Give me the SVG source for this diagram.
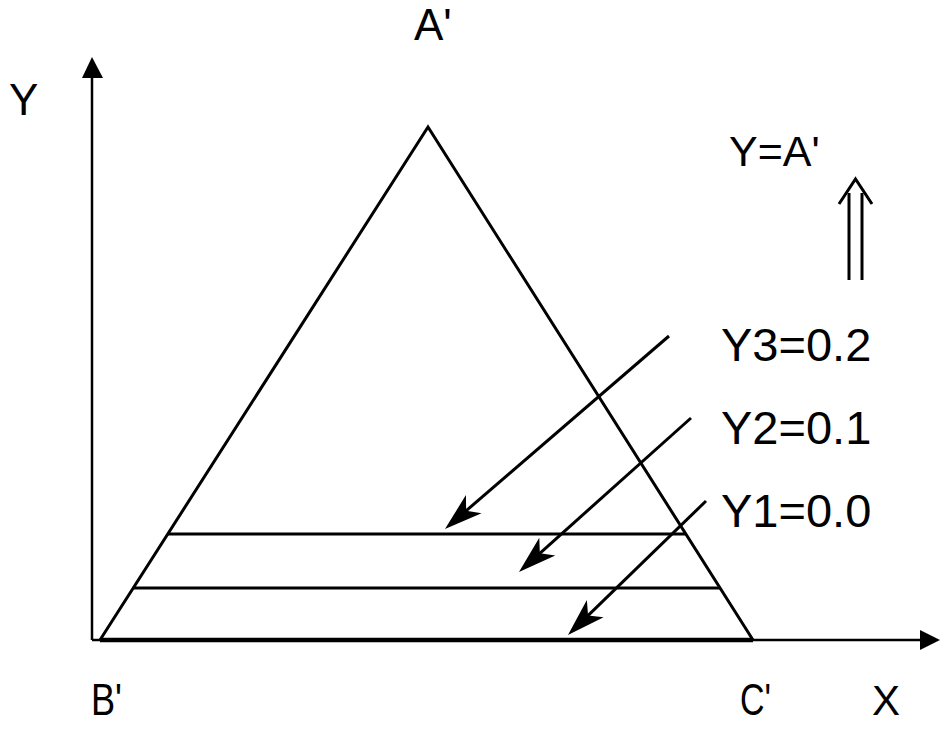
<svg xmlns="http://www.w3.org/2000/svg" width="942" height="735" viewBox="0 0 942 735">
<defs>
<style>
.ln{stroke:#000;stroke-width:3;fill:none;stroke-linecap:butt}
.ax{stroke:#000;stroke-width:2.5;fill:none}
.t{font-family:"Liberation Sans",Arial,sans-serif;fill:#000}
.hd{fill:#000;stroke:none}
</style>
<marker id="ah" markerUnits="userSpaceOnUse" viewBox="-15 -13 42 26" markerWidth="42" markerHeight="26" refX="0" refY="0" orient="auto">
<path class="hd" d="M25,0 L-13,-12 L-3,0 L-13,12 z"/>
</marker>
</defs>
<rect width="942" height="735" fill="#fff"/>
<g id="axes">
<line class="ax" x1="92" y1="640" x2="92" y2="76"/>
<polygon class="hd" points="92,57 82,78 103,78"/>
<line class="ax" x1="92" y1="640" x2="922" y2="640"/>
<polygon class="hd" points="940,640 920,630 920,650"/>
</g>
<g id="triangle">
<polyline class="ln" points="100,640 428,127 753,640"/>
<line x1="100" y1="640" x2="753" y2="640" stroke="#000" stroke-width="4.5"/>
</g>
<g id="level-y3"><line class="ln" x1="168" y1="534" x2="686" y2="534"/></g>
<g id="level-y2"><line class="ln" x1="133" y1="588" x2="720" y2="588"/></g>
<g id="connectors">
<line class="ln" x1="669" y1="336" x2="463.9" y2="512.7" marker-end="url(#ah)"/>
<line class="ln" x1="691" y1="418" x2="537.6" y2="555.3" marker-end="url(#ah)"/>
<line class="ln" x1="706" y1="501" x2="585.9" y2="617.6" marker-end="url(#ah)"/>
</g>
<g id="double-arrow">
<line class="ln" x1="849" y1="193" x2="849" y2="280"/>
<line class="ln" x1="862" y1="193" x2="862" y2="280"/>
<polyline class="ln" points="839,204 855.5,179 872,204"/>
</g>
<g id="labels">
<text class="t" x="414" y="40" font-size="44">A'</text>
<text class="t" x="9" y="115" font-size="44">Y</text>
<text class="t" x="729" y="166" font-size="43">Y=A'</text>
<text class="t" x="721" y="361" font-size="47">Y3=0.2</text>
<text class="t" x="721" y="444" font-size="47">Y2=0.1</text>
<text class="t" x="721" y="527" font-size="47">Y1=0.0</text>
<text class="t" x="91" y="715" font-size="44" textLength="31" lengthAdjust="spacingAndGlyphs">B'</text>
<text class="t" x="740" y="715" font-size="44" textLength="31" lengthAdjust="spacingAndGlyphs">C'</text>
<text class="t" x="872" y="715" font-size="42">X</text>
</g>
</svg>
